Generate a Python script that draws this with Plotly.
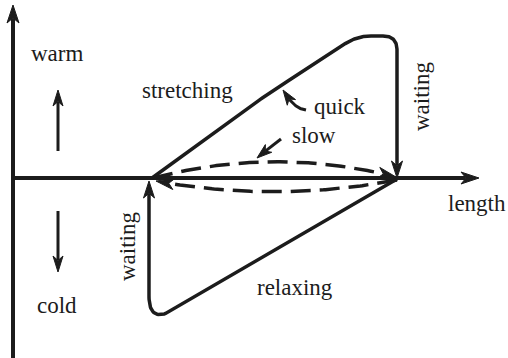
import numpy as np
import plotly.graph_objects as go

W, H = 508, 358
INK = "#1c1c1c"
FONT = "Liberation Serif"
FS = 23

# ---- schematic data (pixel-space control points) ----
vaxis_x = [13, 13]
vaxis_y = [358, 5]            # tail, arrow tip
haxis_x = [11, 479]
haxis_y = [178, 178]

# upper loop: stretching then waiting (rounded polyline vertices)
upper_x = [152, 254, 357, 397, 397]
upper_y = [178, 103, 36, 36, 178]
upper_r = [0, 40, 14, 14, 0]

# lower loop: relaxing then waiting
lower_x = [397, 149, 149]
lower_y = [179, 324, 181]
lower_r = [0, 28, 0]

# slow dashed loop (quadratic Bezier: start, control, end)
slow_up_x = [153, 275, 396]
slow_up_y = [178, 146, 177]
slow_dn_x = [397, 275, 156]
slow_dn_y = [180, 203, 181]

# small indicator arrows: start, control, end (tip)
quick_x = [306, 294, 283]
quick_y = [110, 109, 90]
slowarr_x = [281, 270, 257]
slowarr_y = [139, 147, 158]
warm_x = [58, 58, 58]
warm_y = [151, 120, 90]
cold_x = [58, 58, 58]
cold_y = [211, 240, 272]

labels = ["warm", "stretching", "quick", "slow", "length", "relaxing", "cold", "waiting", "waiting"]
label_x = [57, 187, 340, 314, 477, 295, 57, 421, 127]
label_y = [53, 90, 106, 135, 203, 287, 305, 97, 247]
label_angle = [0, 0, 0, 0, 0, 0, 0, -90, -90]


def bezier(px, py, n=60):
    t = np.linspace(0, 1, n)
    x = (1 - t) ** 2 * px[0] + 2 * t * (1 - t) * px[1] + t ** 2 * px[2]
    y = (1 - t) ** 2 * py[0] + 2 * t * (1 - t) * py[1] + t ** 2 * py[2]
    return x, y


def rounded(xs, ys, rs):
    P = np.column_stack([xs, ys]).astype(float)
    outx, outy = [P[0, 0]], [P[0, 1]]
    for i in range(1, len(P) - 1):
        v, a, b = P[i], P[i - 1], P[i + 1]
        r = rs[i]
        if r <= 0:
            outx.append(v[0]); outy.append(v[1]); continue
        ua = (a - v) / np.linalg.norm(a - v)
        ub = (b - v) / np.linalg.norm(b - v)
        pin, pout = v + r * ua, v + r * ub
        bx, by = bezier([pin[0], v[0], pout[0]], [pin[1], v[1], pout[1]], 30)
        outx += list(bx); outy += list(by)
    outx.append(P[-1, 0]); outy.append(P[-1, 1])
    return np.array(outx), np.array(outy)


def trim_end(x, y, L):
    tip = np.array([x[-1], y[-1]])
    d = np.hypot(np.diff(x), np.diff(y))
    cum = np.concatenate([[0], np.cumsum(d)])
    total = cum[-1]
    keep = cum <= total - L
    xs, ys = list(x[keep]), list(y[keep])
    s = total - L
    xs.append(np.interp(s, cum, x)); ys.append(np.interp(s, cum, y))
    base = np.array([xs[-1], ys[-1]])
    u = (tip - base) / np.linalg.norm(tip - base)
    return np.array(xs), np.array(ys), tip, u


def head(tip, u, L, w):
    n = np.array([-u[1], u[0]])
    base = tip - L * u
    pts = [tip, base + w * n, base + 0.28 * L * u, base - w * n, tip]
    return [p[0] for p in pts], [p[1] for p in pts]


fig = go.Figure()


def add_arrow(x, y, width, L, w, dash="solid"):
    xs, ys, tip, u = trim_end(np.asarray(x, float), np.asarray(y, float), L * 0.75)
    fig.add_trace(go.Scatter(x=xs, y=ys, mode="lines",
                             line=dict(color=INK, width=width, dash=dash),
                             hoverinfo="skip", showlegend=False))
    hx, hy = head(tip, u, L, w)
    fig.add_trace(go.Scatter(x=hx, y=hy, mode="lines", fill="toself",
                             fillcolor=INK, line=dict(color=INK, width=1),
                             hoverinfo="skip", showlegend=False))


# axes
add_arrow(vaxis_x, vaxis_y, 4, 18, 6)
add_arrow(haxis_x, haxis_y, 4, 18, 6)

# main loop
ux, uy = rounded(upper_x, upper_y, upper_r)
add_arrow(ux, uy, 3.5, 17, 5.5)
lx, ly = rounded(lower_x, lower_y, lower_r)
add_arrow(lx, ly, 3.5, 17, 5.5)

# dashed slow loop
sx, sy = bezier(slow_up_x, slow_up_y, 120)
add_arrow(sx, sy, 3.5, 18, 5.5, dash="20px,9px")
sx, sy = bezier(slow_dn_x, slow_dn_y, 120)
add_arrow(sx, sy, 3.5, 18, 5.5, dash="20px,9px")

# indicator arrows
for ax_, ay_ in [(quick_x, quick_y), (slowarr_x, slowarr_y)]:
    bx, by = bezier(ax_, ay_, 40)
    add_arrow(bx, by, 3, 15, 5)
for ax_, ay_ in [(warm_x, warm_y), (cold_x, cold_y)]:
    bx, by = bezier(ax_, ay_, 40)
    add_arrow(bx, by, 3, 16, 5)

for t, x, y, a in zip(labels, label_x, label_y, label_angle):
    fig.add_annotation(x=x, y=y, xref="x", yref="y", text=t, showarrow=False,
                       textangle=a, xanchor="center", yanchor="middle",
                       font=dict(family=FONT, size=FS, color=INK))

fig.update_layout(
    width=W, height=H, margin=dict(l=0, r=0, t=0, b=0),
    paper_bgcolor="white", plot_bgcolor="white",
    xaxis=dict(range=[0, W], visible=False, fixedrange=True),
    yaxis=dict(range=[H, 0], visible=False, fixedrange=True),
)
fig.write_html("out.html", config={"displayModeBar": False},
               post_script="document.body.style.margin='0';document.body.style.overflow='hidden';")
